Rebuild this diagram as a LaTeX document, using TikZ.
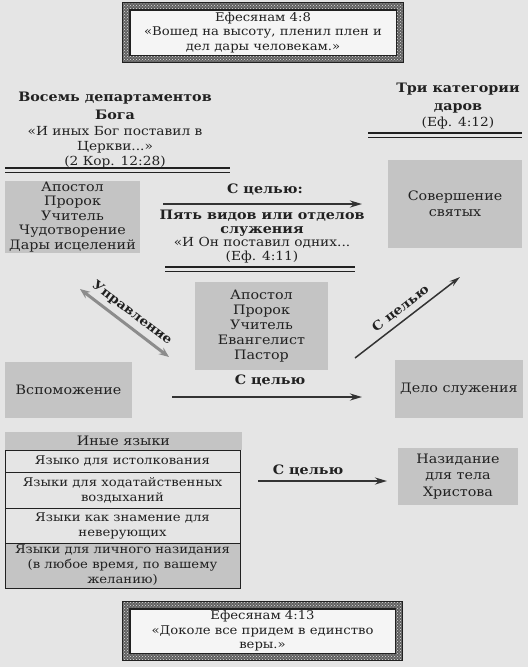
\documentclass[tikz,border=0pt]{standalone}
\usepackage{fontspec}
\setmainfont{DejaVu Serif}[FakeStretch=1.1]
\usetikzlibrary{arrows.meta,patterns}

\definecolor{paper}{gray}{0.90}
\definecolor{boxgray}{gray}{0.77}
\definecolor{ink}{gray}{0.13}

\begin{document}
\begin{tikzpicture}[x=1pt,y=-1pt,
	every node/.style={text=ink, font=\fontsize{13}{14.5}\selectfont},
	headtext/.style={align=center, font=\fontsize{13}{18}\selectfont\bfseries},
	plaintext/.style={align=center, font=\fontsize{12.5}{15}\selectfont},
	greybox/.style={fill=boxgray, inner sep=0pt, align=center},
	tonguerow/.style={draw=ink, line width=1pt, inner sep=0pt, align=center,
		minimum width=235pt, font=\fontsize{12}{15}\selectfont},
	verse/.style={fill=black!4, draw=ink, line width=0.6pt, inner sep=0pt, align=center,
		minimum width=266pt, minimum height=45pt, font=\fontsize{12}{14.5}\selectfont},
	framefill/.style={even odd rule, fill=black!62},
	framedots/.style={even odd rule, pattern=crosshatch dots, pattern color=black!12},
	aim/.style={draw=black!80, line width=2pt, -{Stealth[length=12pt,width=7pt]}},
	rulethick/.style={draw=ink, line width=1.8pt},
	rulethin/.style={draw=ink, line width=0.8pt}]
	
	\useasboundingbox (0,0) rectangle (528,667);
	\fill[paper] (0,0) rectangle (528,667);
	
	% top verse
	\node[verse] (eph8) at (263,32.5) {Ефесянам 4:8\\«Вошед на высоту, пленил плен и\\дел дары человекам.»};
	\fill[framefill] ([shift={(-7,-7)}]eph8.north west) rectangle ([shift={(7,7)}]eph8.south east)
		(eph8.north west) rectangle (eph8.south east);
	\fill[framedots] ([shift={(-7,-7)}]eph8.north west) rectangle ([shift={(7,7)}]eph8.south east)
		(eph8.north west) rectangle (eph8.south east);
	\draw[ink, line width=0.6pt] ([shift={(-7,-7)}]eph8.north west) rectangle ([shift={(7,7)}]eph8.south east)
		(eph8.north west) rectangle (eph8.south east);
	
	% headings
	\node[headtext] (eighttitle) at (115,106) {Восемь департаментов\\Бога};
	\node[plaintext] (eightquote) at (115,147) {«И иных Бог поставил в\\Церкви...»\\(2 Кор. 12:28)};
	\draw[rulethick] (5,168) -- (230,168); \draw[rulethin] (5,172.5) -- (230,172.5);
	
	\node[headtext] (threetitle) at (458,98.5) {Три категории\\даров};
	\node[plaintext] (threeref) at (458,123) {(Еф. 4:12)};
	\draw[rulethick] (368,133) -- (522,133); \draw[rulethin] (368,137.5) -- (522,137.5);
	
	% first row
	\node[greybox, minimum width=135pt, minimum height=72pt] (offices) at (72.5,217)
		{Апостол\\Пророк\\Учитель\\Чудотворение\\Дары исцелений};
	\node[greybox, minimum width=134pt, minimum height=88pt, font=\fontsize{13}{16}\selectfont] (perfect) at (455,204)
		{Совершение\\святых};
	\node[headtext] (aimone) at (265,190) {С целью:};
	\coordinate (aimonestart) at (163,204);
	\coordinate (aimoneend) at (362,204);
	\draw[aim] (aimonestart) -- (aimoneend);
	\node[headtext, font=\fontsize{13}{14.5}\selectfont\bfseries] (fivetitle) at (262,223) {Пять видов или отделов\\служения};
	\node[plaintext, font=\fontsize{12.5}{14}\selectfont] (fivequote) at (262,250) {«И Он поставил одних...\\(Еф. 4:11)};
	\draw[rulethick] (165,267) -- (355,267); \draw[rulethin] (165,271.5) -- (355,271.5);
	
	% middle
	\node[greybox, minimum width=133pt, minimum height=88pt, font=\fontsize{13}{15}\selectfont] (ministry) at (261.5,326)
		{Апостол\\Пророк\\Учитель\\Евангелист\\Пастор};
	\coordinate (govtop) at (80,289);
	\coordinate (govbottom) at (169,357);
	\draw[draw=black!45, line width=3pt, {Stealth[length=10pt,width=8pt]}-{Stealth[length=10pt,width=8pt]}]
		(govtop) -- node[sloped, above=1.5pt, font=\fontsize{12.5}{14}\selectfont\bfseries] (govlabel) {Управление} (govbottom);
	\coordinate (aimtwostart) at (355,358);
	\coordinate (aimtwoend) at (460,277);
	\draw[draw=black!80, line width=1.5pt, -{Stealth[length=11pt,width=6pt]}]
		(aimtwostart) -- node[sloped, above=1.5pt, font=\fontsize{12.5}{14}\selectfont\bfseries] (aimtwolabel) {С целью} (aimtwoend);
	
	% second row
	\node[greybox, minimum width=127pt, minimum height=56pt] (helps) at (68.5,390) {Вспоможение};
	\node[greybox, minimum width=128pt, minimum height=58pt] (service) at (459,389) {Дело служения};
	\node[headtext] (aimthree) at (270,381) {С целью};
	\coordinate (aimthreestart) at (172,397);
	\coordinate (aimthreeend) at (362,397);
	\draw[aim] (aimthreestart) -- (aimthreeend);
	
	% tongues
	\node[greybox, minimum width=237pt, minimum height=18pt, font=\fontsize{13}{15}\selectfont] (tongues) at (123.5,441) {Иные языки};
	\node[tonguerow, minimum height=22pt] (interpret) at (122.5,461) {Языко для истолкования};
	\node[tonguerow, minimum height=36pt] (intercede) at (122.5,490) {Языки для ходатайственных\\воздыханий};
	\node[tonguerow, minimum height=35pt] (sign) at (122.5,525.5) {Языки как знамение для\\неверующих};
	\node[tonguerow, fill=boxgray, minimum height=45pt] (personal) at (122.5,565.5) {Языки для личного назидания\\(в любое время, по вашему\\желанию)};
	
	\node[greybox, minimum width=120pt, minimum height=57pt, font=\fontsize{13}{16.5}\selectfont] (edify) at (458,476.5)
		{Назидание\\для тела\\Христова};
	\node[headtext] (aimfour) at (308,471) {С целью};
	\coordinate (aimfourstart) at (258,481);
	\coordinate (aimfourend) at (387,481);
	\draw[aim] (aimfourstart) -- (aimfourend);
	
	% bottom verse
	\node[verse, minimum width=265pt, minimum height=44pt] (eph13) at (262.5,631) {Ефесянам 4:13\\«Доколе все придем в единство\\веры.»};
	\fill[framefill] ([shift={(-7,-7)}]eph13.north west) rectangle ([shift={(7,7)}]eph13.south east)
		(eph13.north west) rectangle (eph13.south east);
	\fill[framedots] ([shift={(-7,-7)}]eph13.north west) rectangle ([shift={(7,7)}]eph13.south east)
		(eph13.north west) rectangle (eph13.south east);
	\draw[ink, line width=0.6pt] ([shift={(-7,-7)}]eph13.north west) rectangle ([shift={(7,7)}]eph13.south east)
		(eph13.north west) rectangle (eph13.south east);
	
\end{tikzpicture}
\end{document}
